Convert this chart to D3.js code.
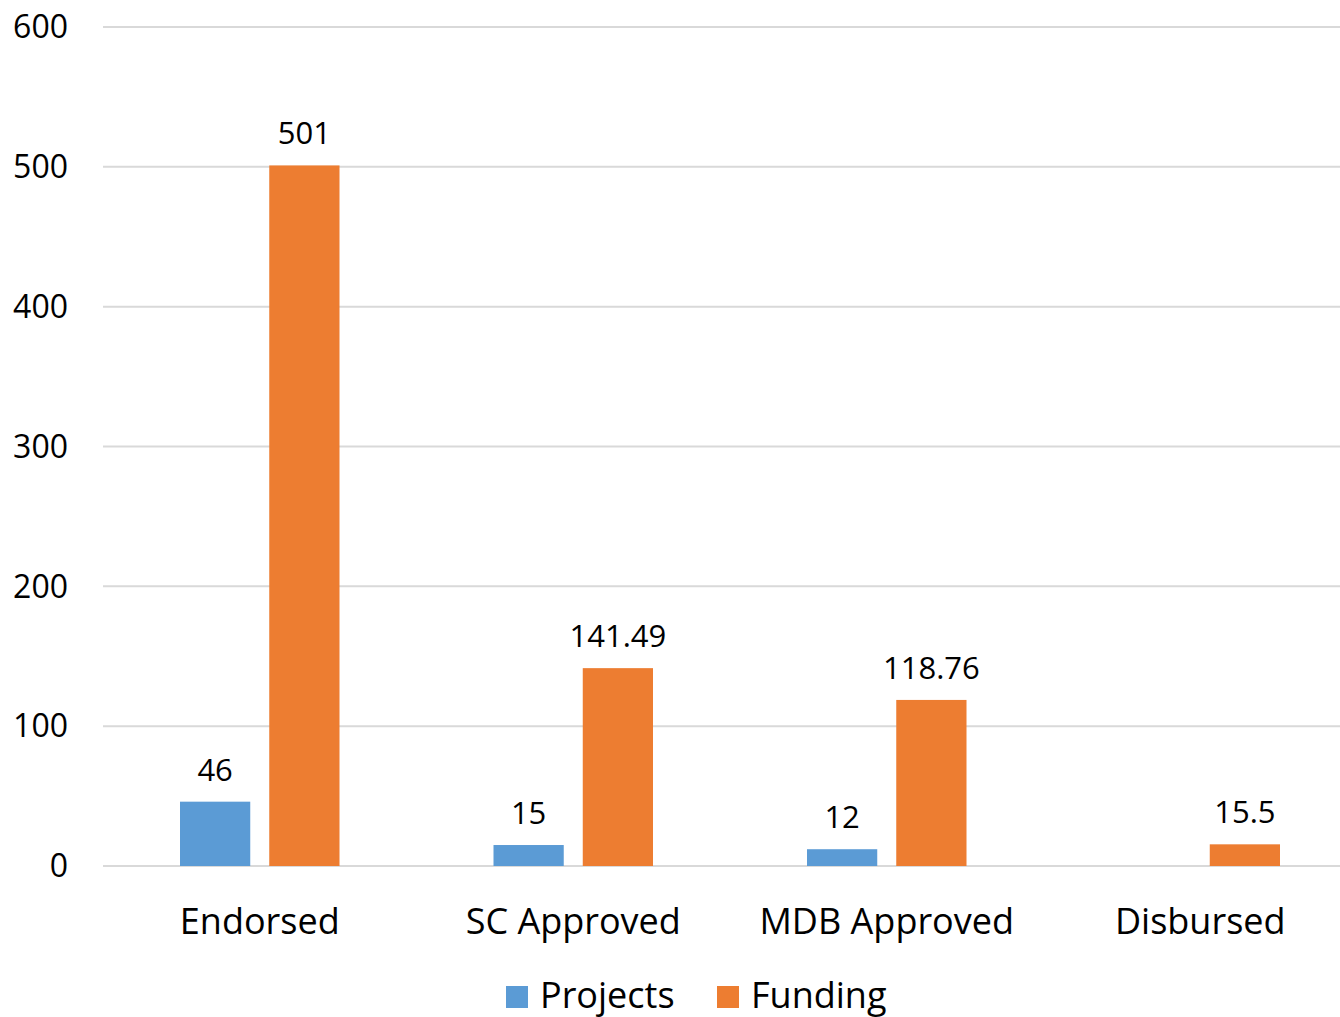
<!DOCTYPE html>
<html lang="en">
<head>
  <meta charset="UTF-8" />
  <title>Projects and Funding</title>
  <script src="https://d3js.org/d3.v7.min.js"></script>
  <style>
    body {
      margin: 0;
      background: #fff;
      overflow: hidden;
    }

    svg {
      display: block;
      font-family: "Open Sans", sans-serif;
    }

    .grid line {
      stroke: #d9d9d9;
      stroke-width: 2px;
    }

    .tick-label {
      font-size: 32px;
      fill: #000;
    }

    .cat-label {
      font-size: 36px;
      fill: #000;
    }

    .value-label {
      font-size: 31px;
      fill: #000;
    }

    .legend text {
      font-size: 36px;
      fill: #000;
    }
  </style>
</head>
<body>
  <svg width="1340" height="1017"></svg>
  <script>
    const categories = ["Endorsed", "SC Approved", "MDB Approved", "Disbursed"];
    const projects = [46, 15, 12, null];
    const funding = [501, 141.49, 118.76, 15.5];
    const yTicks = [0, 100, 200, 300, 400, 500, 600];

    const series = [
      { name: "Projects", values: projects, color: "#5b9bd5" },
      { name: "Funding", values: funding, color: "#ed7d31" }
    ];

    const svg = d3.select("svg");

    const x = d3.scaleBand()
      .domain(categories)
      .range([103, 1357]);

    const inner = d3.scaleBand()
      .domain(series.map(s => s.name))
      .range([77, x.bandwidth() - 77])
      .paddingInner(0.213);

    const y = d3.scaleLinear()
      .domain([0, 600])
      .range([866, 27]);

    // gridlines
    svg.append("g")
      .attr("class", "grid")
      .selectAll("line")
      .data(yTicks)
      .join("line")
      .attr("x1", 103)
      .attr("x2", 1340)
      .attr("y1", d => y(d))
      .attr("y2", d => y(d));

    // y tick labels
    svg.append("g")
      .selectAll("text")
      .data(yTicks)
      .join("text")
      .attr("class", "tick-label")
      .attr("x", 68)
      .attr("y", d => y(d))
      .attr("dy", "0.35em")
      .attr("text-anchor", "end")
      .text(d => d);

    // bars
    const groups = svg.append("g")
      .selectAll("g")
      .data(categories)
      .join("g")
      .attr("transform", d => `translate(${x(d)},0)`);

    const barData = (d, i) => series
      .map(s => ({ key: s.name, value: s.values[i], color: s.color }))
      .filter(b => b.value != null);

    groups.selectAll("rect")
      .data(barData)
      .join("rect")
      .attr("x", d => inner(d.key))
      .attr("width", inner.bandwidth())
      .attr("y", d => y(d.value))
      .attr("height", d => y(0) - y(d.value))
      .attr("fill", d => d.color);

    groups.selectAll("text")
      .data(barData)
      .join("text")
      .attr("class", "value-label")
      .attr("x", d => inner(d.key) + inner.bandwidth() / 2)
      .attr("y", d => y(d.value) - 21)
      .attr("text-anchor", "middle")
      .text(d => d.value);

    // category labels
    svg.append("g")
      .selectAll("text")
      .data(categories)
      .join("text")
      .attr("class", "cat-label")
      .attr("x", d => x(d) + x.bandwidth() / 2)
      .attr("y", 934)
      .attr("text-anchor", "middle")
      .text(d => d);

    // legend
    const legend = svg.append("g").attr("class", "legend");
    const legendX = [506, 717];
    const item = legend.selectAll("g")
      .data(series)
      .join("g")
      .attr("transform", (d, i) => `translate(${legendX[i]},986)`);

    item.append("rect")
      .attr("width", 22)
      .attr("height", 22)
      .attr("fill", d => d.color);

    item.append("text")
      .attr("x", 34)
      .attr("y", 22)
      .text(d => d.name);
  </script>
</body>
</html>
